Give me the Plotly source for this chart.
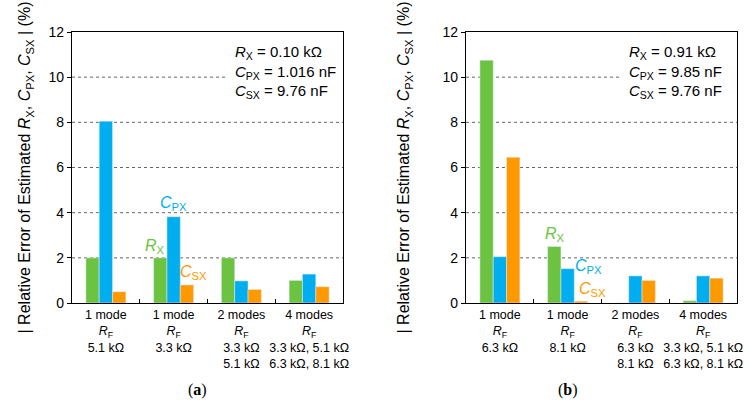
import plotly.graph_objects as go

categories_a = ["1 mode<br><i>R</i><sub>F</sub><br>5.1 kΩ",
                "1 mode<br><i>R</i><sub>F</sub><br>3.3 kΩ",
                "2 modes<br><i>R</i><sub>F</sub><br>3.3 kΩ<br>5.1 kΩ",
                "4 modes<br><i>R</i><sub>F</sub><br>3.3 kΩ, 5.1 kΩ<br>6.3 kΩ, 8.1 kΩ"]
categories_b = ["1 mode<br><i>R</i><sub>F</sub><br>6.3 kΩ",
                "1 mode<br><i>R</i><sub>F</sub><br>8.1 kΩ",
                "2 modes<br><i>R</i><sub>F</sub><br>6.3 kΩ<br>8.1 kΩ",
                "4 modes<br><i>R</i><sub>F</sub><br>3.3 kΩ, 5.1 kΩ<br>6.3 kΩ, 8.1 kΩ"]

rx_a = [2.0, 2.0, 2.0, 1.0]
cpx_a = [8.05, 3.82, 0.98, 1.28]
csx_a = [0.5, 0.8, 0.6, 0.72]

rx_b = [10.75, 2.5, 0.0, 0.1]
cpx_b = [2.05, 1.52, 1.2, 1.2]
csx_b = [6.45, 0.08, 1.0, 1.1]

y_ticks = [0, 2, 4, 6, 8, 10, 12]

GREEN = "#6cc241"
BLUE = "#00aeef"
ORANGE = "#ff9900"
FONT = "Liberation Sans"

fig = go.Figure()
for cats, rx, cpx, csx, xa, ya in [(categories_a, rx_a, cpx_a, csx_a, "x", "y"),
                                   (categories_b, rx_b, cpx_b, csx_b, "x2", "y2")]:
    fig.add_trace(go.Bar(x=cats, y=rx, marker_color=GREEN, xaxis=xa, yaxis=ya, showlegend=False))
    fig.add_trace(go.Bar(x=cats, y=cpx, marker_color=BLUE, xaxis=xa, yaxis=ya, showlegend=False))
    fig.add_trace(go.Bar(x=cats, y=csx, marker_color=ORANGE, xaxis=xa, yaxis=ya, showlegend=False))

ytitle = ("| Relative Error of Estimated <i>R</i><sub>X</sub>, <i>C</i><sub>PX</sub>, "
          "<i>C</i><sub>SX</sub> | (%)")

xcommon = dict(type="category", showline=True, linecolor="black", linewidth=1.2, mirror=True,
               ticks="inside", ticklen=4, tickcolor="black", tickson="boundaries", tickangle=0,
               showgrid=False, tickfont=dict(size=12.5, color="black", family=FONT),
               range=[-0.5, 3.5], automargin=False)


def ycommon(standoff):
    return dict(range=[0, 12], tickvals=y_ticks, showline=True, linecolor="black", linewidth=1.2,
                mirror=True, ticks="outside", ticklen=4, tickcolor="black", showgrid=False,
                zeroline=False, tickfont=dict(size=14, color="black", family=FONT), automargin=False,
                title=dict(text=ytitle, font=dict(size=16, color="black", family=FONT),
                           standoff=standoff))


fig.update_layout(
    width=754, height=400,
    margin=dict(l=0, r=0, t=0, b=0, autoexpand=False),
    paper_bgcolor="white", plot_bgcolor="white",
    barmode="group", bargap=0.41, bargroupgap=0,
    font=dict(family=FONT, color="black"),
    xaxis=dict(domain=[72/754, 343/754], anchor="y", **xcommon),
    xaxis2=dict(domain=[466/754, 737/754], anchor="y2", **xcommon),
    yaxis=dict(domain=[1-303/400, 1-32/400], anchor="x", **ycommon(13)),
    yaxis2=dict(domain=[1-303/400, 1-32/400], anchor="x2", **ycommon(28)),
)

# dotted gridlines
for xd, yd in [("x domain", "y"), ("x2 domain", "y2")]:
    for v in y_ticks[1:-1]:
        x1 = 0.565 if v == 10 else 1
        fig.add_shape(type="line", xref=xd, yref=yd, x0=0, x1=x1, y0=v, y1=v,
                      line=dict(color="#666666", width=1, dash="dot"), layer="below")

ann = []
# info boxes
ann.append(dict(xref="x domain", yref="y domain", x=0.594, y=0.968, xanchor="left", yanchor="top",
                text="<i>R</i><sub>X</sub> = 0.10 kΩ<br><i>C</i><sub>PX</sub> = 1.016 nF<br><i>C</i><sub>SX</sub> = 9.76 nF",
                align="left", showarrow=False, font=dict(size=15, color="black")))
ann.append(dict(xref="x2 domain", yref="y2 domain", x=0.594, y=0.968, xanchor="left", yanchor="top",
                text="<i>R</i><sub>X</sub> = 0.91 kΩ<br><i>C</i><sub>PX</sub> = 9.85 nF<br><i>C</i><sub>SX</sub> = 9.76 nF",
                align="left", showarrow=False, font=dict(size=15, color="black")))
# series labels
labels = [("x", "y", 1 - 0.27, 2.52, "<i>R</i><sub>X</sub>", GREEN),
          ("x", "y", 1.0, 4.42, "<i>C</i><sub>PX</sub>", BLUE),
          ("x", "y", 1 + 0.29, 1.33, "<i>C</i><sub>SX</sub>", ORANGE),
          ("x2", "y2", 1 - 0.19, 3.05, "<i>R</i><sub>X</sub>", GREEN),
          ("x2", "y2", 1 + 0.315, 1.6, "<i>C</i><sub>PX</sub>", BLUE),
          ("x2", "y2", 1 + 0.37, 0.62, "<i>C</i><sub>SX</sub>", ORANGE)]
for xr, yr, xv, yv, t, c in labels:
    ann.append(dict(xref=xr, yref=yr, x=xv, y=yv, text=t, showarrow=False,
                    font=dict(size=16, color=c)))
# panel labels
ann.append(dict(xref="paper", yref="paper", x=186/754, y=1-390/400, text="(<b>a</b>)", showarrow=False,
                yanchor="middle", font=dict(size=16, family="Liberation Serif", color="black")))
ann.append(dict(xref="paper", yref="paper", x=580/754, y=1-390/400, text="(<b>b</b>)", showarrow=False,
                yanchor="middle", font=dict(size=16, family="Liberation Serif", color="black")))
fig.update_layout(annotations=ann)

fig.write_html("out.html", config={"displayModeBar": False},
               post_script="document.body.style.margin='0';document.body.style.padding='0';")
